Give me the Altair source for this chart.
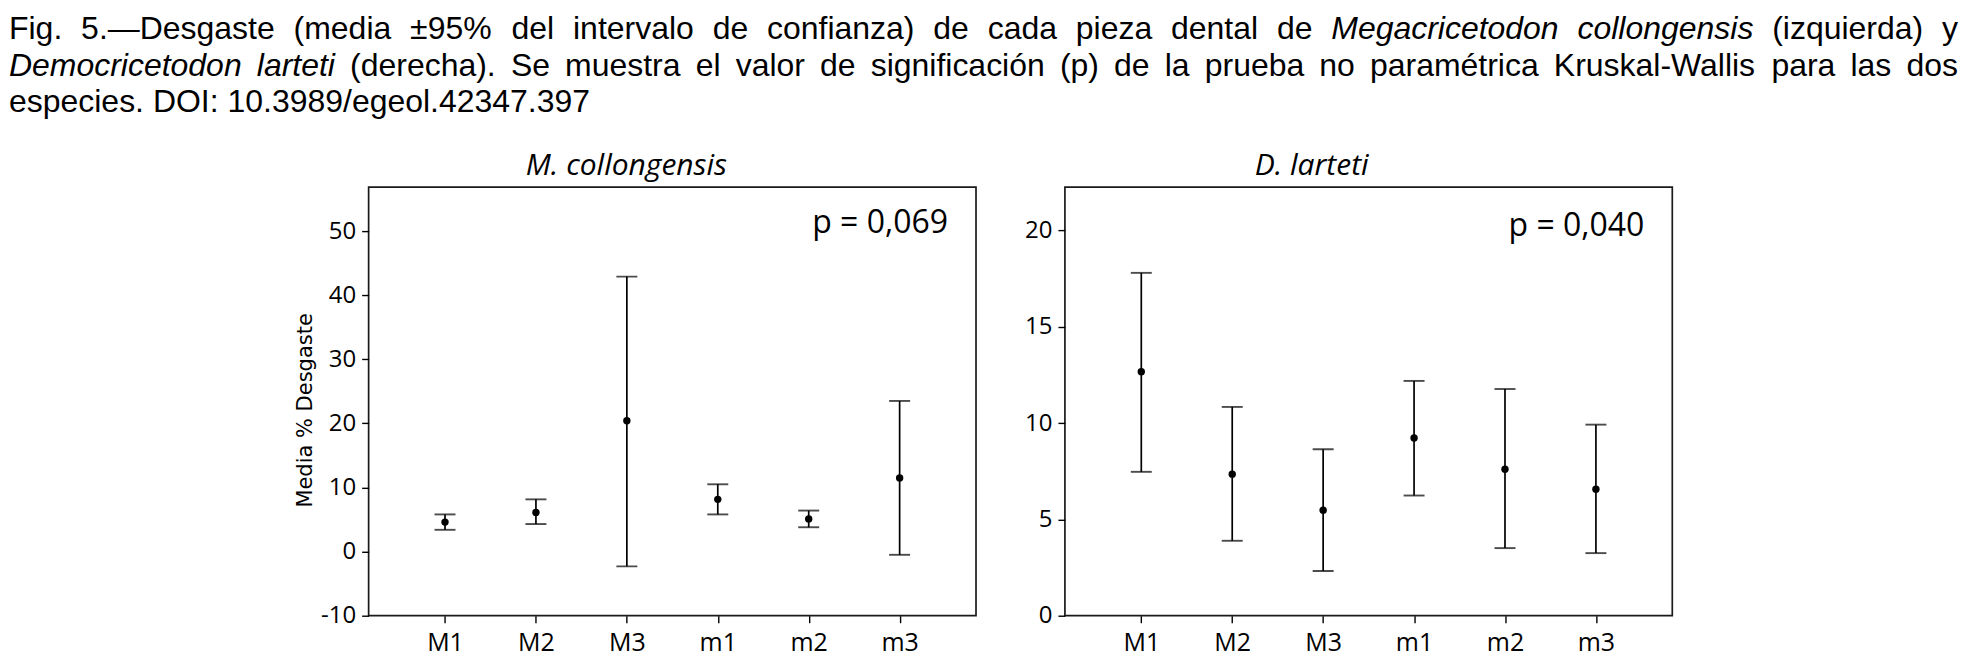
import altair as alt
import pandas as pd

# ---------------- data ----------------
teeth = ["M1", "M2", "M3", "m1", "m2", "m3"]

mc_mean = [4.6, 6.1, 20.4, 8.15, 5.1, 11.5]
mc_low = [3.4, 4.3, -2.3, 5.8, 3.8, -0.5]
mc_high = [5.8, 8.15, 42.9, 10.5, 6.4, 23.5]

dl_mean = [12.67, 7.35, 5.48, 9.23, 7.6, 6.57]
dl_low = [7.47, 3.89, 2.32, 6.24, 3.51, 3.25]
dl_high = [17.8, 10.84, 8.64, 12.19, 11.77, 9.92]

mc_ticks = [-10, 0, 10, 20, 30, 40, 50]
dl_ticks = [0, 5, 10, 15, 20]

mc_title = "M. collongensis"
dl_title = "D. larteti"
mc_p = "p = 0,069"
dl_p = "p = 0,040"
y_title = "Media % Desgaste"

# caption lines: (word, italic)
cap_line1 = [("Fig.", 0), ("5.\u2014Desgaste", 0), ("(media", 0), ("\u00b195%", 0), ("del", 0),
             ("intervalo", 0), ("de", 0), ("confianza)", 0), ("de", 0), ("cada", 0), ("pieza", 0),
             ("dental", 0), ("de", 0), ("Megacricetodon", 1), ("collongensis", 1),
             ("(izquierda)", 0), ("y", 0)]
cap_line2 = [("Democricetodon", 1), ("larteti", 1), ("(derecha).", 0), ("Se", 0), ("muestra", 0),
             ("el", 0), ("valor", 0), ("de", 0), ("significaci\u00f3n", 0), ("(p)", 0), ("de", 0),
             ("la", 0), ("prueba", 0), ("no", 0), ("param\u00e9trica", 0), ("Kruskal-Wallis", 0),
             ("para", 0), ("las", 0), ("dos", 0)]
cap_line3 = [("especies.", 0), ("DOI:", 0), ("10.3989/egeol.42347.397", 0)]

# ---------------- caption layout (justified, Arial metrics) ----------------
ARIAL = {' ': 278, '%': 889, '(': 333, ')': 333, ',': 278, '-': 333, '.': 278, '/': 278, ':': 278,
         '\u2014': 1000, '\u00b1': 584, '\u00e9': 556, '\u00f3': 556, '\u00e1': 556}
for d in "0123456789":
    ARIAL[d] = 556
ARIAL.update({'A': 667, 'B': 667, 'C': 722, 'D': 722, 'E': 667, 'F': 611, 'G': 778, 'H': 722,
              'I': 278, 'J': 500, 'K': 667, 'L': 556, 'M': 833, 'N': 722, 'O': 778, 'P': 667,
              'Q': 778, 'R': 722, 'S': 667, 'T': 611, 'U': 722, 'V': 667, 'W': 944, 'X': 667,
              'Y': 667, 'Z': 611, 'a': 556, 'b': 556, 'c': 500, 'd': 556, 'e': 556, 'f': 278,
              'g': 556, 'h': 556, 'i': 222, 'j': 222, 'k': 500, 'l': 222, 'm': 833, 'n': 556,
              'o': 556, 'p': 556, 'q': 556, 'r': 333, 's': 500, 't': 278, 'u': 556, 'v': 500,
              'w': 722, 'x': 500, 'y': 500, 'z': 500})

CAP_FS = 32
CAP_W = 1951
CAP_LINE = 36.4
CAP_BASE0 = 30


def word_w(w):
    return sum(ARIAL.get(c, 556) for c in w) * CAP_FS / 1000.0


rows = []
for i, (line, justify) in enumerate([(cap_line1, True), (cap_line2, True), (cap_line3, False)]):
    base = CAP_BASE0 + i * CAP_LINE
    widths = [word_w(w) for w, _ in line]
    if justify:
        gap = (CAP_W - sum(widths)) / (len(line) - 1)
    else:
        gap = ARIAL[' '] * CAP_FS / 1000.0
    xpos = 0.0
    for (w, it), ww in zip(line, widths):
        rows.append({"word": w, "px": xpos, "py": base, "italic": it})
        xpos += ww + gap
cap_df = pd.DataFrame(rows)

cap_enc = dict(x=alt.X("px:Q", scale=None), y=alt.Y("py:Q", scale=None), text="word:N")
cap_normal = alt.Chart(cap_df[cap_df.italic == 0]).mark_text(
    align="left", baseline="alphabetic", font="Liberation Sans", fontSize=CAP_FS, color="black"
).encode(**cap_enc)
cap_italic = alt.Chart(cap_df[cap_df.italic == 1]).mark_text(
    align="left", baseline="alphabetic", font="Liberation Sans", fontSize=CAP_FS,
    fontStyle="italic", color="black"
).encode(**cap_enc)
caption = alt.layer(cap_normal, cap_italic).properties(
    width=CAP_W, height=110, view=alt.ViewBackground(stroke="transparent")
)

# ---------------- panels ----------------
PW, PH = 608, 429


def panel(title, mean, low, high, domain, ticks, pval, title_dx, p_y, with_title):
    df = pd.DataFrame({"tooth": teeth, "mean": mean, "low": low, "high": high})
    xenc = alt.X("tooth:N", sort=teeth, scale=alt.Scale(type="point", padding=0.84),
                 axis=alt.Axis(title=None, labelAngle=0, labelFont="Open Sans", labelFontSize=25,
                               labelColor="black", labelPadding=8, labelBaseline="top",
                               tickSize=7, tickColor="black", tickWidth=1.4, domain=False))
    axis_kw = dict(values=ticks, grid=False, domain=False, tickSize=7, tickColor="black",
                   tickWidth=1.4, labelFont="Open Sans", labelFontSize=24, labelColor="black",
                   labelPadding=6, labelExpr="'' + datum.value")
    if with_title:
        axis_kw.update(title=y_title, titleFont="DejaVu Sans", titleFontSize=21,
                       titleFontWeight="normal", titleColor="black", titleX=-63, titleY=223,
                       titleAngle=270, titleAlign="center", titleBaseline="middle")
    else:
        axis_kw.update(title=None)
    yscale = alt.Scale(domain=domain, nice=False, zero=False)
    base = alt.Chart(df)
    rule = base.mark_rule(color="black", strokeWidth=1.7).encode(
        x=xenc, y=alt.Y("low:Q", scale=yscale, axis=alt.Axis(**axis_kw)), y2="high:Q")
    cap_lo = base.mark_tick(size=21, thickness=1.9, color="black").encode(
        x=xenc, y=alt.Y("low:Q", scale=yscale))
    cap_hi = base.mark_tick(size=21, thickness=1.9, color="black").encode(
        x=xenc, y=alt.Y("high:Q", scale=yscale))
    pts = base.mark_circle(size=55, color="black", opacity=1).encode(
        x=xenc, y=alt.Y("mean:Q", scale=yscale))
    ptxt = alt.Chart(pd.DataFrame({"p": [pval]})).mark_text(
        align="right", baseline="alphabetic", font="Open Sans", fontSize=32, color="black"
    ).encode(text="p:N", x=alt.value(PW - 28), y=alt.value(p_y))
    return alt.layer(rule, cap_lo, cap_hi, pts, ptxt).properties(
        width=PW, height=PH,
        title=alt.TitleParams(title, font="Open Sans", fontSize=30, fontStyle="italic",
                              fontWeight="normal", color="black", anchor="middle",
                              frame="group", dx=title_dx, dy=29, offset=11,
                              baseline="alphabetic"),
        view=alt.ViewBackground(stroke="#1a1a1a", strokeWidth=1.7),
    )


left = panel(mc_title, mc_mean, mc_low, mc_high, [-10, 56.85], mc_ticks, mc_p, -46, 46, True)
right = panel(dl_title, dl_mean, dl_low, dl_high, [0, 22.25], dl_ticks, dl_p, -57, 49, False)

spacer = alt.Chart(pd.DataFrame({"t": [""]})).mark_text().encode(text="t:N").properties(
    width=271, height=PH, view=alt.ViewBackground(stroke="transparent"))

panels = alt.hconcat(spacer, left, right, spacing=89, bounds="flush")
chart = alt.vconcat(caption, panels, spacing=68, bounds="flush", padding=0).configure(
    background="white")

chart.save("out.html", embed_options={"renderer": "svg", "actions": False})
